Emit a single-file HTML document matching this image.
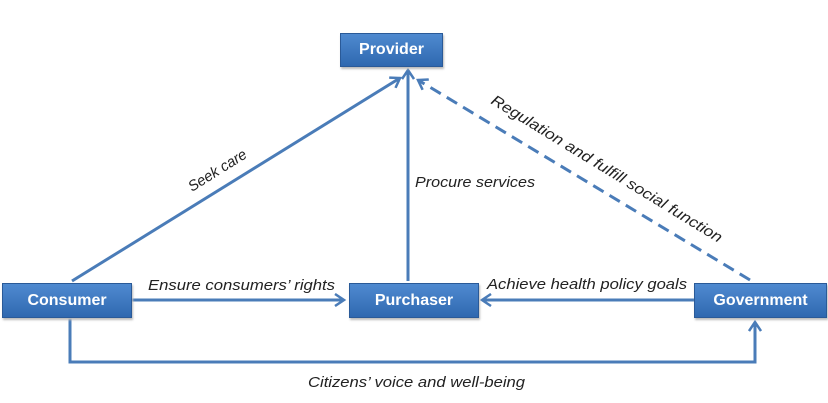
<!DOCTYPE html>
<html><head><style>
body{margin:0;background:#fff;}
.b{position:absolute;background:linear-gradient(#4f8ad0,#2f68b0);border:1px solid #2a5a98;color:#fff;font:bold 16px "Liberation Sans",sans-serif;display:flex;align-items:center;justify-content:center;box-shadow:1px 2px 2px #bbb;}
</style></head><body>
<div style="position:relative;width:828px;height:403px;overflow:hidden">
<svg width="828" height="403" style="position:absolute;left:0;top:0">
<defs><marker id="a" markerWidth="14" markerHeight="14" refX="10" refY="7" orient="auto" markerUnits="userSpaceOnUse"><path d="M1,1 L10,7 L1,13" fill="none" stroke="#4a7cb8" stroke-width="2.5"/></marker></defs>
<g stroke="#4a7cb8" stroke-width="3" fill="none">
<line x1="72" y1="281" x2="400" y2="78" marker-end="url(#a)"/>
<line x1="408" y1="281" x2="408" y2="70" marker-end="url(#a)"/>
<line x1="750" y1="280" x2="418" y2="80" stroke-dasharray="12,7" marker-end="url(#a)"/>
<line x1="132" y1="300" x2="344" y2="300" marker-end="url(#a)"/>
<line x1="694" y1="300" x2="482" y2="300" marker-end="url(#a)"/>
<polyline points="70,318 70,362 755,362 755,322" marker-end="url(#a)"/>
</g>
<g font-family="Liberation Sans,sans-serif" font-style="italic" font-size="15" fill="#222">
<text x="148" y="290" textLength="187" lengthAdjust="spacingAndGlyphs">Ensure consumers’ rights</text>
<text x="487" y="289" textLength="200" lengthAdjust="spacingAndGlyphs">Achieve health policy goals</text>
<text x="415" y="187" textLength="120" lengthAdjust="spacingAndGlyphs">Procure services</text>
<text x="308" y="387" textLength="217" lengthAdjust="spacingAndGlyphs">Citizens’ voice and well-being</text>
<text transform="translate(192,192) rotate(-32)" textLength="66" lengthAdjust="spacingAndGlyphs">Seek care</text>
<text transform="translate(490,103) rotate(31.5)" textLength="268" lengthAdjust="spacingAndGlyphs">Regulation and fulfill social function</text>
</g>
</svg>
<div class="b" style="left:340px;top:33px;width:101px;height:32px">Provider</div>
<div class="b" style="left:2px;top:283px;width:128px;height:33px">Consumer</div>
<div class="b" style="left:349px;top:283px;width:128px;height:33px">Purchaser</div>
<div class="b" style="left:694px;top:283px;width:131px;height:33px">Government</div>
</div>
</body></html>
